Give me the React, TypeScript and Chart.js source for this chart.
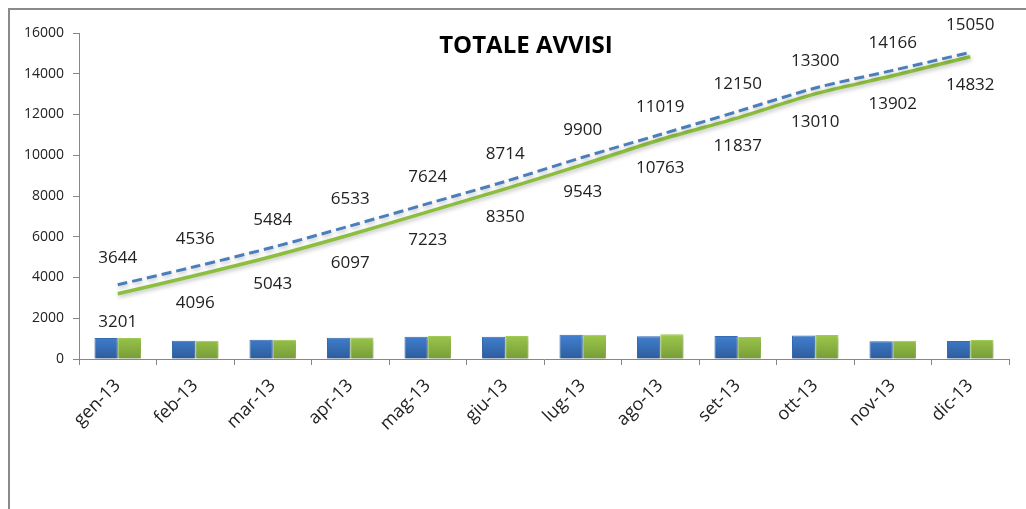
import React, { useEffect, useRef } from "react";
import { Chart, registerables } from "chart.js";

Chart.register(...registerables);

const categories = ["gen-13", "feb-13", "mar-13", "apr-13", "mag-13", "giu-13", "lug-13", "ago-13", "set-13", "ott-13", "nov-13", "dic-13"];
const blueMonthly = [1030, 892, 948, 1049, 1091, 1090, 1186, 1119, 1131, 1150, 866, 884];
const greenMonthly = [1030, 895, 947, 1054, 1126, 1127, 1193, 1220, 1074, 1173, 892, 930];
const blueCumulative = [3644, 4536, 5484, 6533, 7624, 8714, 9900, 11019, 12150, 13300, 14166, 15050];
const greenCumulative = [3201, 4096, 5043, 6097, 7223, 8350, 9543, 10763, 11837, 13010, 13902, 14832];
const yTicks = [0, 2000, 4000, 6000, 8000, 10000, 12000, 14000, 16000];
const titleText = "TOTALE AVVISI";

const FONT = "'Open Sans', 'Liberation Sans', sans-serif";

function barGradient(top: string, bottom: string, fallback: string) {
  return (c: any) => {
    const chart = c.chart;
    const { ctx, chartArea, scales } = chart;
    if (!chartArea || !scales.y) return fallback;
    const y0 = scales.y.getPixelForValue(0);
    const y1 = scales.y.getPixelForValue(1200);
    const g = ctx.createLinearGradient(0, y1, 0, y0);
    g.addColorStop(0, top);
    g.addColorStop(1, bottom);
    return g;
  };
}

const shadowPlugin = {
  id: "shadowPlugin",
  beforeDatasetDraw(chart: any) {
    const ctx = chart.ctx;
    ctx.save();
    ctx.shadowColor = "rgba(0,0,0,0.25)";
    ctx.shadowBlur = 4;
    ctx.shadowOffsetX = 1;
    ctx.shadowOffsetY = 2;
  },
  afterDatasetDraw(chart: any) {
    chart.ctx.restore();
  },
};

const labelsPlugin = {
  id: "labelsPlugin",
  afterDatasetsDraw(chart: any) {
    const ctx = chart.ctx;
    ctx.save();
    ctx.font = `17px ${FONT}`;
    ctx.fillStyle = "#222222";
    ctx.textAlign = "center";
    ctx.textBaseline = "middle";
    const metaBlue = chart.getDatasetMeta(2);
    const metaGreen = chart.getDatasetMeta(3);
    metaBlue.data.forEach((pt: any, i: number) => {
      ctx.fillText(String(blueCumulative[i]), pt.x, pt.y - 27);
    });
    metaGreen.data.forEach((pt: any, i: number) => {
      ctx.fillText(String(greenCumulative[i]), pt.x, pt.y + 28);
    });
    ctx.font = `bold 24px ${FONT}`;
    ctx.fillStyle = "#000000";
    ctx.fillText(titleText, chart.width / 2 + 8, 36);
    ctx.restore();
  },
};

export default function App() {
  const ref = useRef<HTMLCanvasElement | null>(null);
  useEffect(() => {
    if (!ref.current) return;
    const chart = new Chart(ref.current, {
      type: "bar",
      data: {
        labels: categories,
        datasets: [
          {
            type: "bar",
            label: "A",
            data: blueMonthly,
            backgroundColor: barGradient("#4381d2", "#2c5c9c", "#3a72bd"),
            borderColor: "#3a6fb5",
            borderWidth: 1,
            order: 2,
          },
          {
            type: "bar",
            label: "B",
            data: greenMonthly,
            backgroundColor: barGradient("#9cc84c", "#779c38", "#8ab443"),
            borderColor: "#a4cf5a",
            borderWidth: 1,
            order: 2,
          },
          {
            type: "line",
            label: "C",
            data: blueCumulative,
            borderColor: "#4a7ebb",
            borderWidth: 3,
            borderDash: [10, 5],
            pointRadius: 0,
            tension: 0.3,
            fill: false,
            order: 0,
          },
          {
            type: "line",
            label: "D",
            data: greenCumulative,
            borderColor: "#8cbf3f",
            borderWidth: 3.5,
            pointRadius: 0,
            tension: 0.3,
            fill: false,
            order: 1,
          },
        ] as any,
      },
      options: {
        animation: false,
        responsive: false,
        maintainAspectRatio: false,
        layout: { padding: { left: 0, right: 17, top: 23, bottom: 0 } },
        plugins: {
          legend: { display: false },
          tooltip: { enabled: false },
          title: { display: false },
        },
        datasets: {
          bar: { categoryPercentage: 0.6, barPercentage: 1.0 },
        } as any,
        scales: {
          x: {
            offset: true,
            grid: {
              display: true,
              offset: true,
              drawOnChartArea: false,
              drawTicks: true,
              tickLength: 6,
              color: "#878787",
            },
            border: { display: true, color: "#878787", width: 1 },
            ticks: {
              minRotation: 45,
              maxRotation: 45,
              color: "#222222",
              font: { family: FONT, size: 18 },
              padding: 10,
              autoSkip: false,
            },
            afterFit(scale: any) {
              scale.height = 150;
            },
          },
          y: {
            min: 0,
            max: 16000,
            afterBuildTicks(scale: any) {
              scale.ticks = yTicks.map((v) => ({ value: v }));
            },
            grid: {
              display: true,
              drawOnChartArea: false,
              drawTicks: true,
              tickLength: 6,
              color: "#878787",
            },
            border: { display: true, color: "#878787", width: 1 },
            ticks: {
              color: "#222222",
              font: { family: FONT, size: 14 },
              padding: 9,
              callback: (v: any) => String(v),
            },
            afterFit(scale: any) {
              scale.width = 69;
            },
          },
        },
      },
      plugins: [shadowPlugin, labelsPlugin],
    });
    return () => chart.destroy();
  }, []);

  return (
    <div
      style={{
        position: "fixed",
        left: 8,
        top: 8,
        width: 1018,
        height: 501,
        borderLeft: "2px solid #8a8a8a",
        borderTop: "2px solid #8a8a8a",
        boxSizing: "border-box",
        background: "#ffffff",
      }}
    >
      <canvas ref={ref} width={1016} height={499} style={{ display: "block" }} />
    </div>
  );
}
